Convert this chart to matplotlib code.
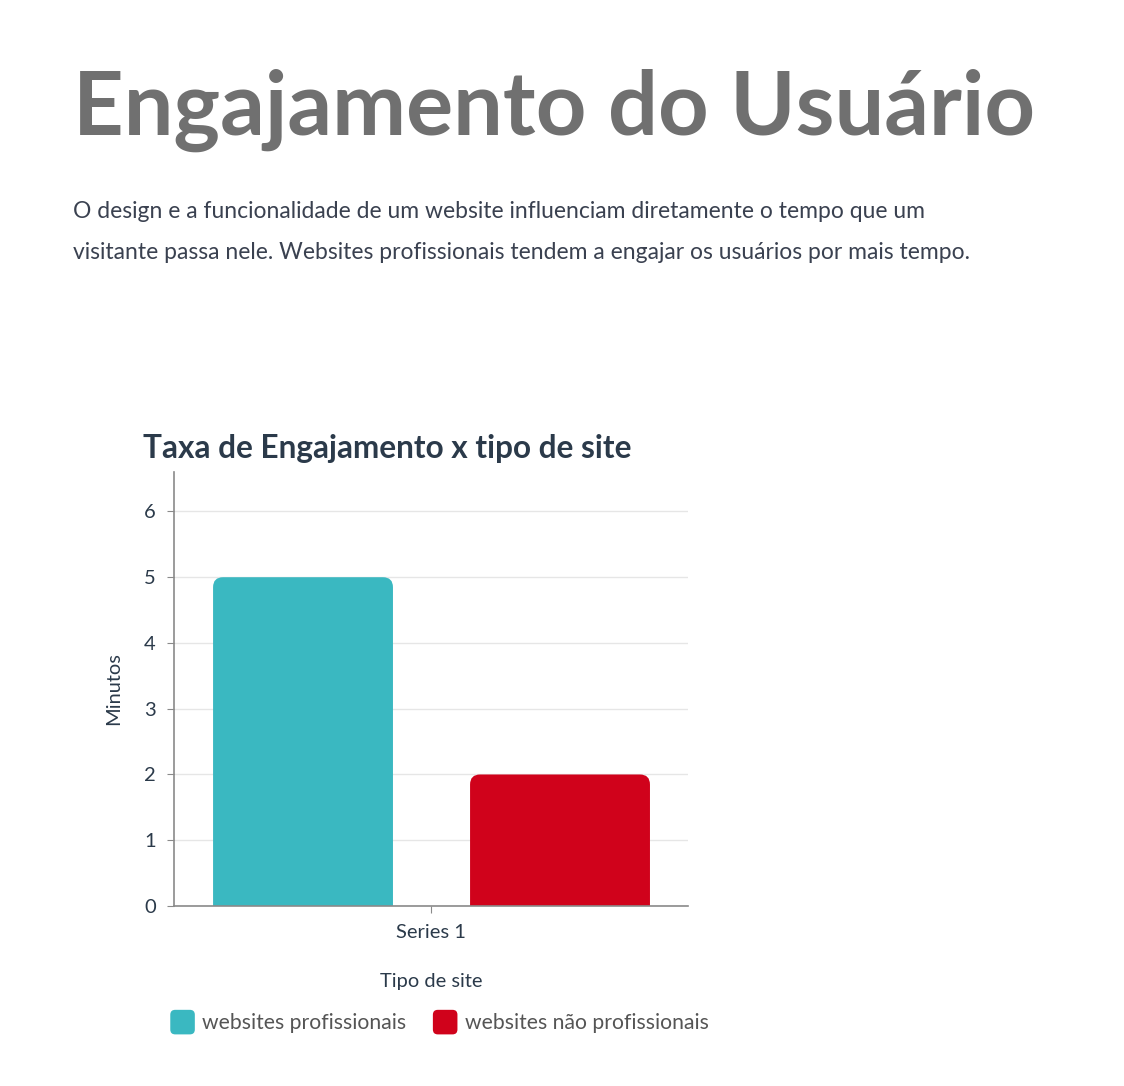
import matplotlib.pyplot as plt
from matplotlib.patches import FancyBboxPatch, Patch
from matplotlib.legend_handler import HandlerPatch

# data
series = ["Series 1"]
labels = ["websites profissionais", "websites não profissionais"]
minutos = [5, 2]
colors = ["#3ab8c1", "#d0021b"]
yticks = [0, 1, 2, 3, 4, 5, 6]

plt.rcParams["font.family"] = ["Lato", "DejaVu Sans"]

W, H = 1124, 1086
fig = plt.figure(figsize=(W / 100, H / 100), dpi=100)
fig.patch.set_facecolor("white")

def px(x, y):
    return x / W, 1 - y / H

fig.text(*px(73, 135), "Engajamento do Usuário", fontsize=63.5, fontweight="bold",
         color="#707070", va="baseline", ha="left")
fig.text(*px(73, 218), "O design e a funcionalidade de um website influenciam diretamente o tempo que um",
         fontsize=16.5, color="#3a4150", va="baseline", ha="left")
fig.text(*px(73, 259), "visitante passa nele. Websites profissionais tendem a engajar os usuários por mais tempo.",
         fontsize=16.5, color="#3a4150", va="baseline", ha="left")
fig.text(*px(143, 458), "Taxa de Engajamento x tipo de site", fontsize=22.7, fontweight="bold",
         color="#2b3a4a", va="baseline", ha="left")

ax = fig.add_axes([174 / W, 1 - 906 / H, (688 - 174) / W, (906 - 472) / H])
ax.set_xlim(-0.5, 0.5)
ax.set_ylim(0, 6.6)

width = 0.35
offsets = [-0.249, 0.251]
bars = []
for off, v, c, lab in zip(offsets, minutos, colors, labels):
    b = ax.bar(0 + off, v, width=width, color=c, label=lab)
    bars.append(b[0])

# rounded tops: replace rectangles with rounded boxes (bottom hidden below 0)
xpp = 1.0 / 514
ypp = 6.6 / 434
for r in bars:
    x0, w, h = r.get_x(), r.get_width(), r.get_height()
    p = FancyBboxPatch((x0, -0.5), w, h + 0.5,
                       boxstyle="round,pad=0,rounding_size=%f" % (10 * xpp),
                       mutation_aspect=ypp / xpp,
                       facecolor=r.get_facecolor(), edgecolor="none", zorder=2)
    ax.add_patch(p)
    r.set_visible(False)

ax.set_yticks(yticks)
ax.set_xticks([0])
ax.set_xticklabels(series)
ax.grid(axis="y", color="#e6e6e6", linewidth=1)
ax.set_axisbelow(True)
for s in ["top", "right"]:
    ax.spines[s].set_visible(False)
for s in ["left", "bottom"]:
    ax.spines[s].set_color("#8a8a8a")
    ax.spines[s].set_linewidth(1.2)
    ax.spines[s].set_zorder(3)
ax.tick_params(axis="both", colors="#8a8a8a", labelcolor="#2b3a4a", labelsize=14.5, length=5)
ax.tick_params(axis="y", pad=8)
ax.tick_params(axis="x", pad=8)

ax.set_ylabel("Minutos", fontsize=14.4, color="#2b3a4a", labelpad=16)
ax.set_xlabel("Tipo de site", fontsize=14.4, color="#2b3a4a", labelpad=23)


class RoundBox(HandlerPatch):
    def create_artists(self, legend, orig_handle, xdescent, ydescent, width, height, fontsize, trans):
        s = min(width, height) * 1.3
        x0 = -xdescent + (width - s) / 2
        y0 = -ydescent + (height - s) / 2
        p = FancyBboxPatch((x0, y0), s, s, boxstyle="round,pad=0,rounding_size=%f" % (s * 0.2),
                           facecolor=orig_handle.get_facecolor(), edgecolor="none", transform=trans)
        return [p]


handles = [Patch(facecolor=c) for c in colors]
fig.legend(handles, labels, loc="center left", bbox_to_anchor=px(172, 1023), ncol=2,
           frameon=False, fontsize=15.2, handletextpad=0.42, columnspacing=1.35,
           labelcolor="#555555", borderaxespad=0, borderpad=0, handlelength=1.0,
           handleheight=1.0, handler_map={Patch: RoundBox()})

fig.savefig("out.png", dpi=100)
